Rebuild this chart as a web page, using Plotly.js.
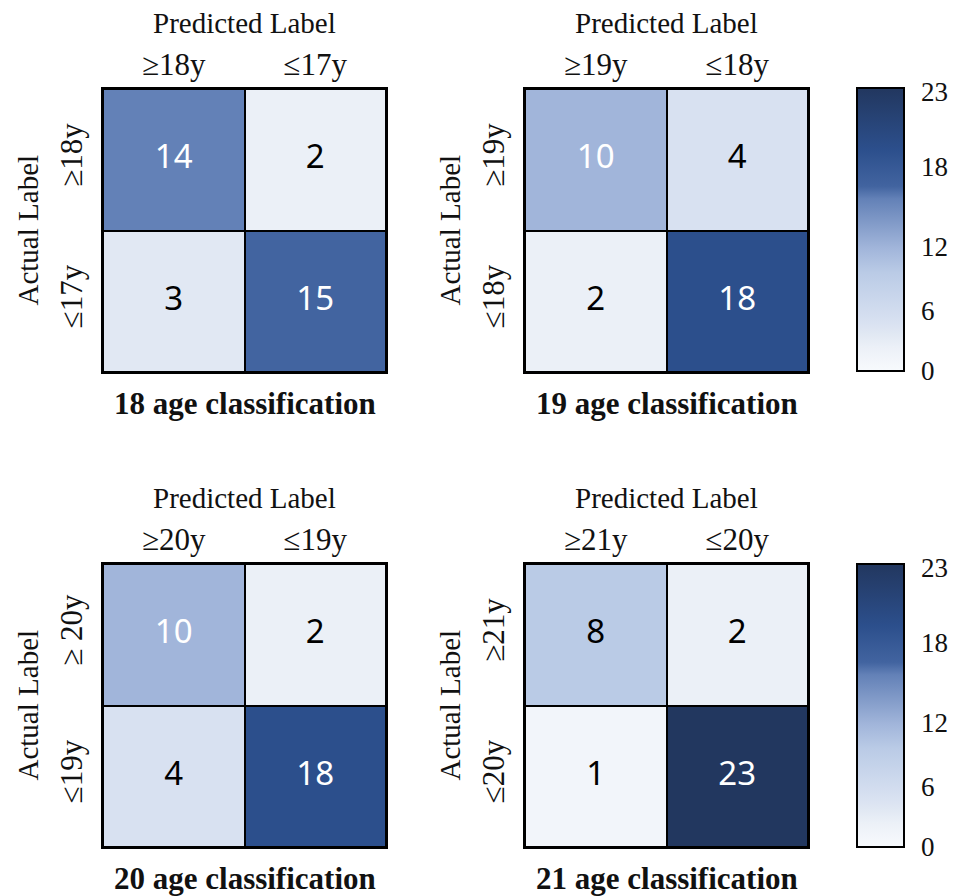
<!DOCTYPE html>
<html><head><meta charset="utf-8">
<script src="https://cdn.plot.ly/plotly-3.0.1.min.js"></script>
<style>html,body{margin:0;padding:0;background:#fff}</style>
</head><body><div id="chart" style="width:958px;height:896px"></div>
<script>
// ---- data ----
const panelTitles = ["18 age classification", "19 age classification", "20 age classification", "21 age classification"];
const predictedLabels18 = ["≥18y", "≤17y"];
const actualLabels18 = ["≥18y", "≤17y"];
const predictedLabels19 = ["≥19y", "≤18y"];
const actualLabels19 = ["≥19y", "≤18y"];
const predictedLabels20 = ["≥20y", "≤19y"];
const actualLabels20 = ["≥ 20y", "≤19y"];
const predictedLabels21 = ["≥21y", "≤20y"];
const actualLabels21 = ["≥21y", "≤20y"];
const counts18 = [[14, 2], [3, 15]];
const counts19 = [[10, 4], [2, 18]];
const counts20 = [[10, 2], [4, 18]];
const counts21 = [[8, 2], [1, 23]];
const colorMin = 0, colorMax = 23;
const cbTickVals = [0, 4.9, 10.1, 16.6, 22.7];
const cbTickText = ["0", "6", "12", "18", "23"];
const axisTitleX = "Predicted Label";
const axisTitleY = "Actual Label";

// ---- style ----
const stopValues = [0, 1, 2, 3, 4, 8, 10, 14, 15, 18, 23];
const stopColors = ["#f7fafd", "#f2f5fa", "#ebf0f7", "#e1e8f3", "#d8e1f1", "#bacbe6", "#a1b5da", "#6381b7", "#4264a0", "#2c4f8c", "#22375f"];
const colorscale = stopValues.map((v, i) => [(v - colorMin) / (colorMax - colorMin), stopColors[i]]);
const W = 958, H = 896;
const serif = "Liberation Serif, Times New Roman, serif";
const sans = "Noto Sans, Open Sans, sans-serif";

const panels = [
  {z: counts18, px: predictedLabels18, ay: actualLabels18, title: panelTitles[0], L: 103, T: 89, cb: null},
  {z: counts19, px: predictedLabels19, ay: actualLabels19, title: panelTitles[1], L: 525, T: 89, cb: 229.5},
  {z: counts20, px: predictedLabels20, ay: actualLabels20, title: panelTitles[2], L: 103, T: 564, cb: null},
  {z: counts21, px: predictedLabels21, ay: actualLabels21, title: panelTitles[3], L: 525, T: 564, cb: 705.5}
];
const S = 283; // panel size in px

const traces = [];
const layout = {
  width: W, height: H, margin: {l: 0, r: 0, t: 0, b: 0},
  paper_bgcolor: "white", plot_bgcolor: "black",
  showlegend: false, annotations: []
};

panels.forEach((p, k) => {
  const n = k + 1;
  const xa = n === 1 ? "x" : "x" + n;
  const ya = n === 1 ? "y" : "y" + n;
  const xd = [p.L / W, (p.L + S) / W];
  const yd = [1 - (p.T + S) / H, 1 - p.T / H];
  const hm = {
    type: "heatmap", z: p.z, x: p.px, y: p.ay, xaxis: xa, yaxis: ya,
    colorscale: colorscale, zmin: colorMin, zmax: colorMax,
    xgap: 2, ygap: 2, hoverinfo: "skip", showscale: p.cb !== null
  };
  if (p.cb !== null) {
    hm.colorbar = {
      x: 857 / W, xanchor: "left", y: 1 - p.cb / H, yanchor: "middle",
      len: S, lenmode: "pixels", thickness: 47, thicknessmode: "pixels",
      outlinewidth: 2, outlinecolor: "black", ypad: 0, xpad: 0,
      tickvals: cbTickVals, ticktext: cbTickText,
      ticks: "outside", ticklen: 11, tickcolor: "rgba(0,0,0,0)",
      tickfont: {family: serif, size: 27, color: "#111"}
    };
  }
  traces.push(hm);
  const tx = [], ty = [], tt = [], tc = [];
  p.z.forEach((row, i) => row.forEach((v, j) => {
    tx.push(p.px[j]); ty.push(p.ay[i]); tt.push(String(v)); tc.push(v >= 10 ? "white" : "black");
  }));
  traces.push({
    type: "scatter", mode: "text", x: tx, y: ty, text: tt, xaxis: xa, yaxis: ya,
    textfont: {family: sans, size: 33, color: tc}, hoverinfo: "skip", cliponaxis: false
  });
  const axKey = n === 1 ? "" : String(n);
  layout["xaxis" + axKey] = {
    domain: xd, anchor: ya, side: "top", type: "category",
    showline: true, mirror: true, linewidth: 2, linecolor: "black",
    ticks: "",
    tickfont: {family: serif, size: 31, color: "#111"},
    showgrid: false, zeroline: false, fixedrange: true
  };
  layout["yaxis" + axKey] = {
    domain: yd, anchor: xa, type: "category", autorange: "reversed",
    showline: true, mirror: true, linewidth: 2, linecolor: "black",
    ticks: "outside", ticklen: 7, tickcolor: "rgba(0,0,0,0)", tickangle: -90,
    tickfont: {family: serif, size: 31, color: "#111"},
    showgrid: false, zeroline: false, fixedrange: true
  };
  const cx = (p.L + S / 2) / W;
  layout.annotations.push({
    text: axisTitleX, xref: "paper", yref: "paper", x: cx, y: 1 - (p.T - 66) / H,
    xanchor: "center", yanchor: "middle", showarrow: false,
    font: {family: serif, size: 29, color: "#111"}
  });
  layout.annotations.push({
    text: axisTitleY, xref: "paper", yref: "paper", x: (p.L - 76) / W, y: 1 - (p.T + S / 2) / H,
    xanchor: "center", yanchor: "middle", showarrow: false, textangle: -90,
    font: {family: serif, size: 29, color: "#111"}
  });
  layout.annotations.push({
    text: "<b>" + p.title + "</b>", xref: "paper", yref: "paper", x: cx, y: 1 - (p.T + S + 31) / H,
    xanchor: "center", yanchor: "middle", showarrow: false,
    font: {family: serif, size: 31, color: "#111"}
  });
});

Plotly.newPlot("chart", traces, layout, {displayModeBar: false, staticPlot: true});
</script></body></html>
